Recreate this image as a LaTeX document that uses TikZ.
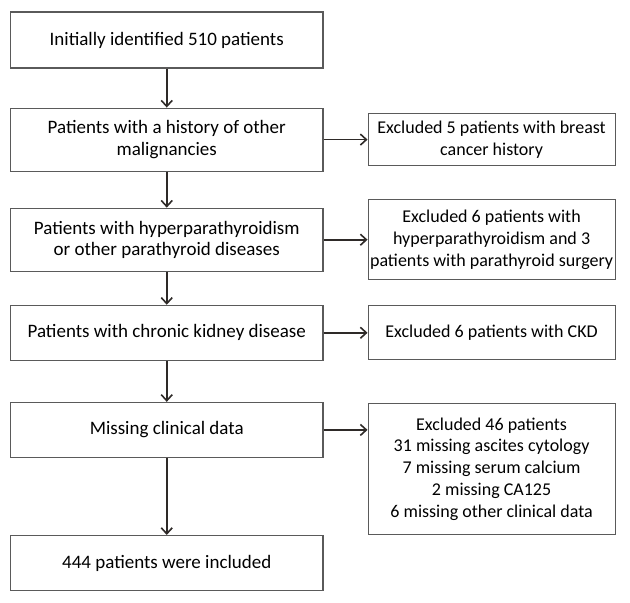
\documentclass[tikz,border=0pt]{standalone}
\usepackage{fontspec}
\setmainfont{Carlito}
\usepackage{tikz}
\usetikzlibrary{arrows.meta, positioning}

\definecolor{boxline}{HTML}{5A5A5A}
\definecolor{arrline}{HTML}{2E2A28}

\begin{document}
\begin{tikzpicture}[x=1pt, y=-1pt,
        stage/.style={rectangle, draw=boxline, line width=1.1pt,
                     minimum width=312.5pt, align=center,
                     inner sep=0pt, font=\fontsize{19}{21.5}\selectfont},
        excl/.style={rectangle, draw=boxline, line width=1.1pt,
                     minimum width=247pt, align=center,
                     inner sep=0pt, font=\fontsize{18}{21.7}\selectfont},
        arr/.style={-{Straight Barb[length=6pt, width=11pt]}, line width=1.6pt, arrline}
    ]
        \useasboundingbox (0,0) rectangle (630,603);
        \node[stage, minimum height=56pt] (start) at (166.75,40) {Initially identified 510 patients};
        \node[stage, minimum height=63pt, below=39pt of start] (malig) {Patients with a history of other\\malignancies};
        \node[stage, minimum height=63pt, below=36pt of malig] (para)  {Patients with hyperparathyroidism\\or other parathyroid diseases};
        \node[stage, minimum height=55pt, below=33pt of para]  (ckd)   {Patients with chronic kidney disease};
        \node[stage, minimum height=55pt, below=41pt of ckd]   (miss)  {Missing clinical data};
        \node[stage, minimum height=55pt, below=77pt of miss]  (incl)  {444 patients were included};
        % exclusions
        \node[excl, minimum height=52pt, right=44pt of malig] (exmalig) {Excluded 5 patients with breast\\cancer history};
        \node[excl, minimum height=80pt, right=44pt of para]  (expara)  {Excluded 6 patients with\\hyperparathyroidism and 3\\patients with parathyroid surgery};
        \node[excl, minimum height=54pt, right=44pt of ckd]   (exckd)   {Excluded 6 patients with CKD};
        \node[excl, minimum height=131pt, right=44pt of miss.north east, anchor=north west, yshift=-1pt] (exmiss)
            {Excluded 46 patients\\31 missing ascites cytology\\7 missing serum calcium\\2 missing CA125\\6 missing other clinical data};
        \draw[arr] (start)--(malig); \draw[arr] (malig)--(para);
        \draw[arr] (para)--(ckd); \draw[arr] (ckd)--(miss);
        \draw[arr] (miss)--(incl);
        \draw[arr] (malig)--(exmalig); \draw[arr] (para)--(expara);
        \draw[arr] (ckd)--(exckd); \draw[arr] (miss.east)--(miss.east -| exmiss.west);
    \end{tikzpicture}
\end{document}
